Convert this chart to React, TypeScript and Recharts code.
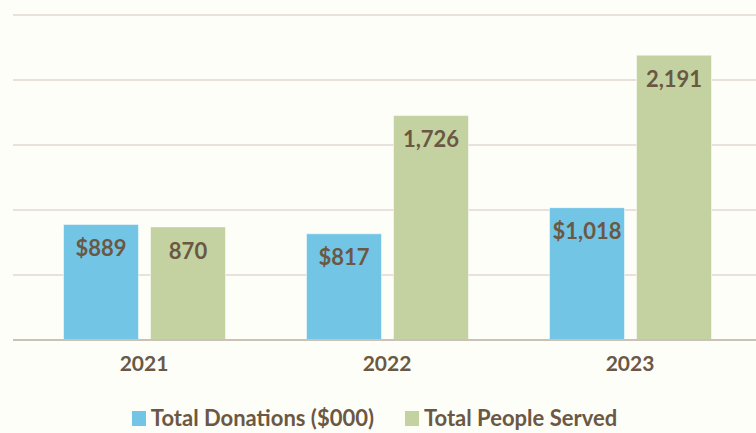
import { BarChart, Bar, XAxis, YAxis, CartesianGrid, Legend, LabelList } from 'recharts';

const years = ['2021', '2022', '2023'];
const donations = [889, 817, 1018];
const peopleServed = [870, 1726, 2191];
const yTicks = [0, 500, 1000, 1500, 2000, 2500];

const BLUE = '#73c5e5';
const GREEN = '#c3d2a0';
const BROWN = '#6b5844';
const FONT = 'Lato, "Open Sans", sans-serif';

const data = years.map((y, i) => ({ year: y, donations: donations[i], people: peopleServed[i] }));

const fmtMoney = (v: number) => `$${v.toLocaleString('en-US')}`;
const fmtNum = (v: number) => v.toLocaleString('en-US');

function LegendBox() {
  const items = [
    { label: 'Total Donations ($000)', color: BLUE },
    { label: 'Total People Served', color: GREEN },
  ];
  return (
    <div style={{ display: 'flex', justifyContent: 'center', alignItems: 'center', gap: 31, paddingRight: 20, fontFamily: FONT, fontSize: 22, fontWeight: 700, color: BROWN, lineHeight: '24px' }}>
      {items.map(it => (
        <div key={it.label} style={{ display: 'flex', alignItems: 'center' }}>
          <span style={{ display: 'inline-block', width: 14, height: 15, background: it.color, marginRight: 5 }} />
          <span>{it.label}</span>
        </div>
      ))}
    </div>
  );
}

export default function App() {
  return (
    <div style={{ position: 'absolute', left: 0, top: 0, width: 756, height: 433, background: '#fefef8', overflow: 'hidden' }}>
      <BarChart width={756} height={433} data={data} margin={{ top: 15, right: 0, left: 13, bottom: 23 }} barGap={12} barSize={75}>
        <CartesianGrid vertical={false} stroke="#e2d8d0" strokeWidth={1.5} />
        <XAxis
          dataKey="year"
          padding={{ left: 9.5, right: 4.5 }}
          axisLine={{ stroke: '#cbc2b7', strokeWidth: 2 }}
          tickLine={false}
          tickSize={0}
          tickMargin={16}
          height={40}
          tick={{ fill: BROWN, fontSize: 21, fontWeight: 700, fontFamily: FONT }}
        />
        <YAxis hide domain={[0, 2500]} ticks={yTicks} />
        <Legend content={<LegendBox />} height={30} verticalAlign="bottom" wrapperStyle={{ bottom: -3 }} />
        <Bar dataKey="donations" fill={BLUE} stroke="#ffffff" strokeOpacity={0.5} isAnimationActive={false}>
          <LabelList dataKey="donations" position="insideTop" offset={16} formatter={(v: any) => fmtMoney(v)} style={{ fill: BROWN, fontSize: 22, fontWeight: 700, fontFamily: FONT }} />
        </Bar>
        <Bar dataKey="people" fill={GREEN} stroke="#ffffff" strokeOpacity={0.5} isAnimationActive={false}>
          <LabelList dataKey="people" position="insideTop" offset={16} formatter={(v: any) => fmtNum(v)} style={{ fill: BROWN, fontSize: 22, fontWeight: 700, fontFamily: FONT }} />
        </Bar>
      </BarChart>
    </div>
  );
}
